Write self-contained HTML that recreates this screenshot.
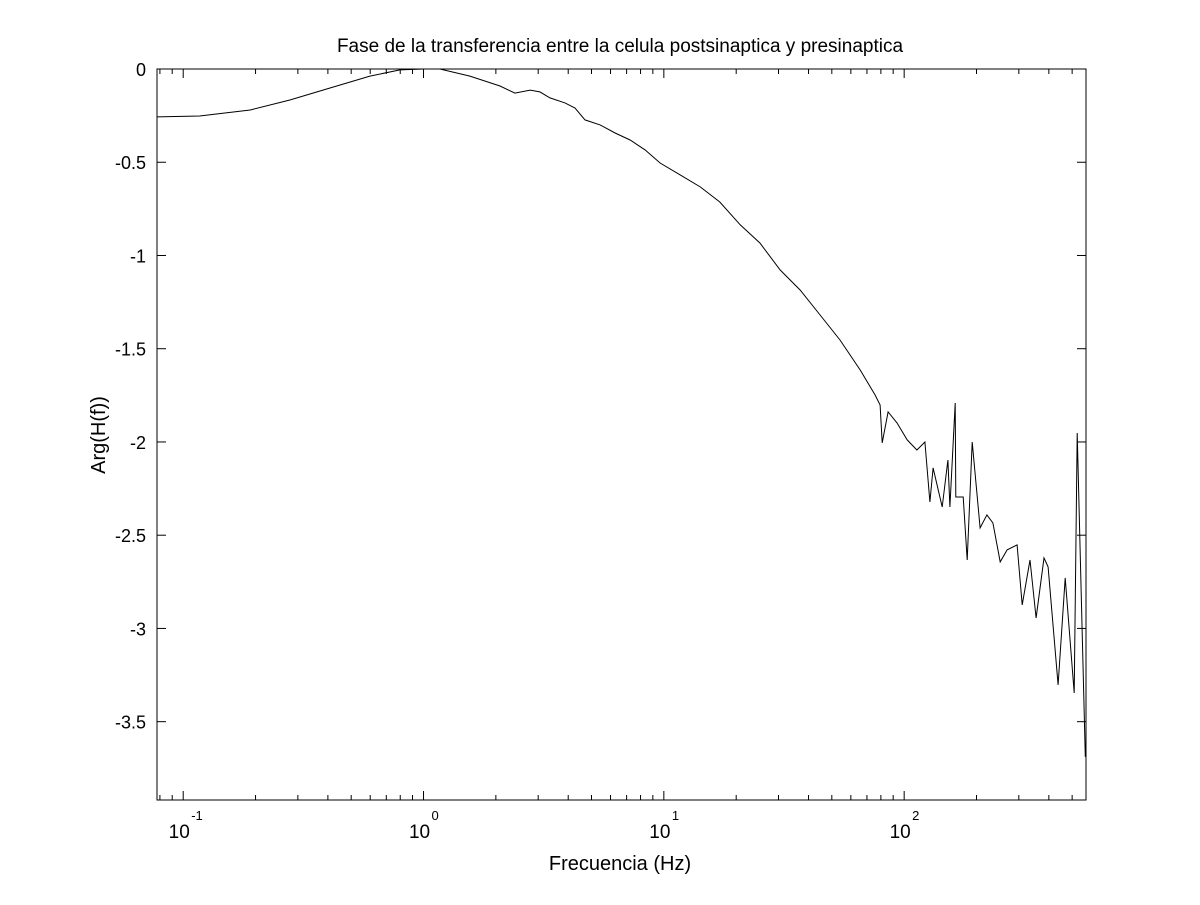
<!DOCTYPE html>
<html><head><meta charset="utf-8"><style>
body{margin:0;background:#fff}
svg{font-family:"Liberation Sans",sans-serif}
</style></head><body>
<svg id="c" width="1200" height="900" viewBox="0 0 1200 900">
<rect x="0" y="0" width="1200" height="900" fill="#fff"/>
<text x="620" y="52" font-size="19" text-anchor="middle">Fase de la transferencia entre la celula postsinaptica y presinaptica</text>
<text x="620" y="870" font-size="20" text-anchor="middle">Frecuencia (Hz)</text>
<text transform="translate(105,435) rotate(-90)" font-size="20" text-anchor="middle">Arg(H(f))</text>
<g id="ticks"></g>
<path id="line" fill="none" stroke="#000" stroke-width="1"/>
<rect x="157" y="69" width="929" height="731" fill="none" stroke="#000" stroke-width="1"/>
</svg>
<script>
const freqs=[0.078,0.117,0.190,0.278,0.408,0.598,0.798,1.00,1.17,1.56,2.08,2.40,2.78,3.05,3.36,3.88,4.27,4.70,5.43,6.27,7.24,8.36,9.65,11.7,14.2,17.1,20.8,25.1,30.5,36.9,44.7,54.1,65.6,75.7,79.4,81.0,85.7,93.4,103,113,122,128,132,144,152,155,163,164,176,183,192,207,221,234,251,268,295,310,334,354,382,397,437,468,510,525,551,567];
const phases=[-0.257,-0.252,-0.220,-0.166,-0.102,-0.038,-0.005,0,0,-0.038,-0.091,-0.129,-0.113,-0.123,-0.155,-0.182,-0.209,-0.273,-0.300,-0.343,-0.381,-0.434,-0.504,-0.568,-0.633,-0.713,-0.836,-0.933,-1.078,-1.185,-1.319,-1.453,-1.614,-1.748,-1.802,-2.005,-1.839,-1.898,-1.989,-2.043,-2.000,-2.322,-2.139,-2.349,-2.097,-2.349,-1.791,-2.295,-2.295,-2.633,-2.000,-2.461,-2.391,-2.434,-2.643,-2.579,-2.552,-2.874,-2.633,-2.944,-2.622,-2.670,-3.303,-2.729,-3.346,-1.952,-3.046,-3.689];
const yTicks=[0,-0.5,-1,-1.5,-2,-2.5,-3,-3.5];
const yTickLabels=["0","-0.5","-1","-1.5","-2","-2.5","-3","-3.5"];
const xDecades=[-1,0,1,2];
const L=157,R=1086,T=69,B=800;
const xMin=Math.log10(0.0778),xMax=Math.log10(571),yMax=0,yMin=-3.92;
const sx=f=>L+(Math.log10(f)-xMin)/(xMax-xMin)*(R-L);
const sy=v=>T+(yMax-v)/(yMax-yMin)*(B-T);
const NS="http://www.w3.org/2000/svg";
const g=document.getElementById('ticks');
function ln(x1,y1,x2,y2){const e=document.createElementNS(NS,'line');e.setAttribute('x1',x1);e.setAttribute('y1',y1);e.setAttribute('x2',x2);e.setAttribute('y2',y2);e.setAttribute('stroke','#000');


g.appendChild(e);}
yTicks.forEach((v,i)=>{const y=sy(v);ln(L,y,L+9,y);ln(R,y,R-9,y);
const t=document.createElementNS(NS,'text');t.setAttribute('x',L-11);t.setAttribute('y',y+7);t.setAttribute('font-size','18');t.setAttribute('text-anchor','end');t.textContent=yTickLabels[i];


g.appendChild(t);});
for(let d=-2;d<=2;d++){for(let m=1;m<10;m++){const f=m*Math.pow(10,d);const lf=Math.log10(f);if(lf<xMin||lf>xMax)continue;const x=sx(f);const len=m===1?9:5;ln(x,B,x,B-len);ln(x,T,x,T+len);}}
xDecades.forEach(d=>{const x=sx(Math.pow(10,d));
const t=document.createElementNS(NS,'text');t.setAttribute('x',x-4);t.setAttribute('y',838);t.setAttribute('font-size','19');t.setAttribute('text-anchor','middle');t.textContent='10';


g.appendChild(t);
const s=document.createElementNS(NS,'text');s.setAttribute('x',x+8);s.setAttribute('y',820);s.setAttribute('font-size','13');s.textContent=String(d);


g.appendChild(s);});
document.getElementById('line').setAttribute('d',freqs.map((f,i)=>(i?'L':'M')+sx(f).toFixed(1)+','+sy(phases[i]).toFixed(1)).join(''));
</script>
</body></html>
